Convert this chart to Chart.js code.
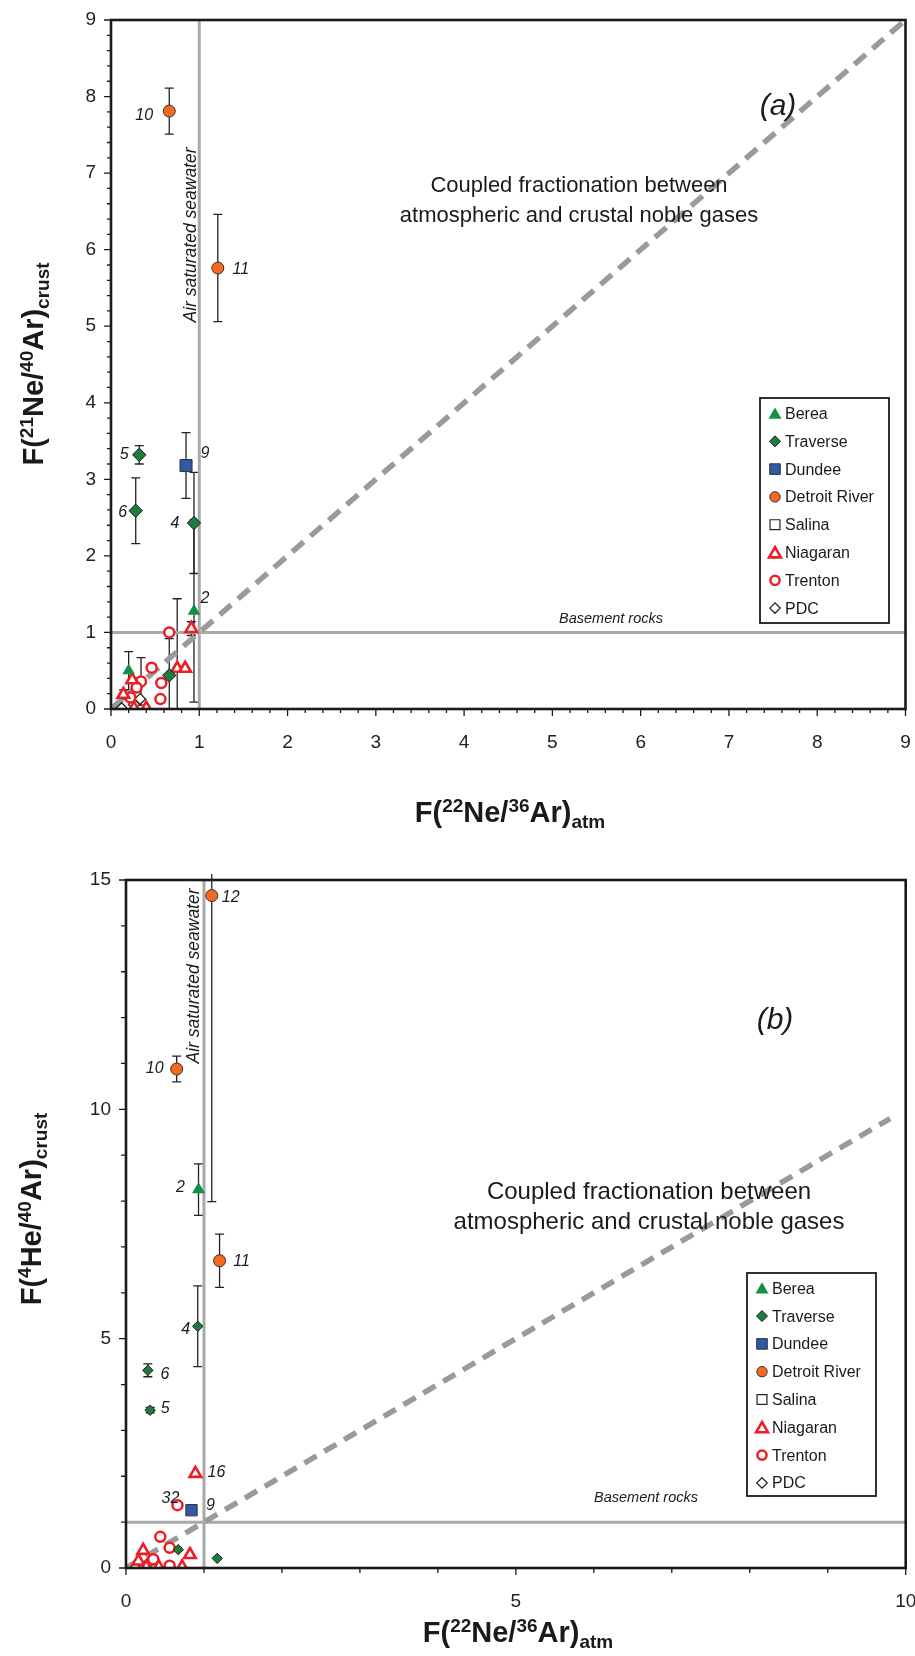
<!DOCTYPE html>
<html><head><meta charset="utf-8">
<script src="https://cdn.jsdelivr.net/npm/chart.js@4.4.0/dist/chart.umd.min.js"></script>
<style>
html,body{margin:0;padding:0;background:#fff;}
#wrapA{position:absolute;left:0;top:0;width:915px;height:860px;}
#wrapB{position:absolute;left:0;top:860px;width:915px;height:796px;}
canvas{display:block;}
</style></head><body>
<div id="wrapA"><canvas id="chartA" width="915" height="860"></canvas></div>
<div id="wrapB"><canvas id="chartB" width="915" height="796"></canvas></div>
<script>
// ---------- DATA ----------
const FORMATIONS = ['Berea','Traverse','Dundee','Detroit River','Salina','Niagaran','Trenton','PDC'];

// Panel (a): F(22Ne/36Ar)atm vs F(21Ne/40Ar)crust
const A_BEREA_X = [0.94, 0.20];
const A_BEREA_Y = [1.28, 0.50];
const A_BEREA_ERR = [1.19, 0.25];
const A_TRAVERSE_X = [0.32, 0.28, 0.94, 0.66];
const A_TRAVERSE_Y = [3.32, 2.59, 2.43, 0.44];
const A_TRAVERSE_ERR = [0.12, 0.43, 0.66, 0.48];
const A_DUNDEE_X = [0.85];
const A_DUNDEE_Y = [3.18];
const A_DUNDEE_ERR = [0.43];
const A_DETROIT_X = [0.66, 1.21];
const A_DETROIT_Y = [7.81, 5.76];
const A_DETROIT_ERR = [0.30, 0.70];
const A_SALINA_X = [];
const A_SALINA_Y = [];
const A_NIAGARAN_X = [0.91, 0.75, 0.84, 0.24, 0.14, 0.26, 0.40];
const A_NIAGARAN_Y = [1.05, 0.53, 0.53, 0.38, 0.19, 0.01, 0.01];
const A_NIAGARAN_ERR = [0.09, 0.91, 0, 0, 0.06, 0, 0];
const A_TRENTON_X = [0.66, 0.46, 0.57, 0.56, 0.34, 0.29, 0.22];
const A_TRENTON_Y = [1.00, 0.54, 0.34, 0.13, 0.36, 0.28, 0.15];
const A_TRENTON_ERR = [0, 0, 0, 0, 0.31, 0, 0];
const A_PDC_X = [0.12, 0.26, 0.33];
const A_PDC_Y = [0.01, 0.06, 0.13];
const A_DIAG_X = [0, 9], A_DIAG_Y = [0, 9];
const A_ASW_X = [1, 1], A_ASW_Y = [0, 9];
const A_BASE_X = [0, 9], A_BASE_Y = [1, 1];
const A_TICKS_X = [0,1,2,3,4,5,6,7,8,9];
const A_TICKS_Y = [0,1,2,3,4,5,6,7,8,9];
const A_LABEL_TEXT = ['10','11','5','9','6','4','2'];
const A_LABEL_SERIES = ['Detroit River','Detroit River','Traverse','Dundee','Traverse','Traverse','Berea'];
const A_LABEL_INDEX = [0,1,0,0,1,2,0];

// Panel (b): F(22Ne/36Ar)atm vs F(4He/40Ar)crust
const B_BEREA_X = [0.93];
const B_BEREA_Y = [8.25];
const B_BEREA_ERR = [0.56];
const B_TRAVERSE_X = [0.92, 0.28, 0.31, 0.67, 1.17];
const B_TRAVERSE_Y = [5.27, 4.31, 3.44, 0.40, 0.21];
const B_TRAVERSE_ERR = [0.88, 0.14, 0.06, 0, 0];
const B_DUNDEE_X = [0.84];
const B_DUNDEE_Y = [1.26];
const B_DETROIT_X = [1.10, 0.65, 1.20];
const B_DETROIT_Y = [14.66, 10.88, 6.70];
const B_DETROIT_ERR = [6.67, 0.28, 0.58];
const B_SALINA_X = [];
const B_SALINA_Y = [];
const B_NIAGARAN_X = [0.89, 0.22, 0.82, 0.72, 0.42, 0.16, 0.26];
const B_NIAGARAN_Y = [2.06, 0.38, 0.29, 0.02, 0.02, 0.15, 0.02];
const B_TRENTON_X = [0.66, 0.44, 0.56, 0.56, 0.35];
const B_TRENTON_Y = [1.37, 0.68, 0.44, 0.05, 0.19];
const B_PDC_X = [0.12, 0.24, 0.32];
const B_PDC_Y = [0.00, 0.03, 0.15];
const B_DIAG_X = [0, 9.8], B_DIAG_Y = [0, 9.8];
const B_ASW_X = [1, 1], B_ASW_Y = [0, 15];
const B_BASE_X = [0, 10], B_BASE_Y = [1, 1];
const B_TICKS_X = [0,5,10];
const B_TICKS_Y = [0,5,10,15];
const B_LABEL_TEXT = ['12','10','2','11','4','6','5','16','32','9'];
const B_LABEL_SERIES = ['Detroit River','Detroit River','Berea','Detroit River','Traverse','Traverse','Traverse','Niagaran','Trenton','Dundee'];
const B_LABEL_INDEX = [0,1,0,2,0,1,2,0,0,0];

// ---------- STYLE ----------
const FONT = '"Liberation Sans", Arial, Helvetica, sans-serif';
const STYLE = {
  'Berea':        {ps:'triangle', bg:'#12904a', bc:'#12904a', bw:0,   rA:7.3, rB:7.5, rL:7.5},
  'Traverse':     {ps:'rectRot',  bg:'#1e7d3e', bc:'#1a1a1a', bw:1,   rA:6.7, rB:5.2, rL:5.5},
  'Dundee':       {ps:'rect',     bg:'#3157a6', bc:'#333333', bw:1,   rA:8.5, rB:8,   rL:7.5},
  'Detroit River':{ps:'circle',   bg:'#f4691f', bc:'#333333', bw:1,   rA:6,   rB:6,   rL:5.2},
  'Salina':       {ps:'rect',     bg:'#ffffff', bc:'#222222', bw:1.2, rA:7,   rB:7,   rL:7},
  'Niagaran':     {ps:'triangle', bg:'#ffffff', bc:'#ee1c25', bw:2.6, rA:6.7, rB:6.7, rL:6.8},
  'Trenton':      {ps:'circle',   bg:'#ffffff', bc:'#ee1c25', bw:2.5, rA:5,   rB:5,   rL:4.6},
  'PDC':          {ps:'rectRot',  bg:'#ffffff', bc:'#222222', bw:1.3, rA:5.5, rB:5.5, rL:5.2}
};
const LABEL_OFFSETS_A = [[-25,4],[23,2],[-15,0],[19,-12],[-13,2],[-19,1],[11,-12]];
const LABEL_OFFSETS_B = [[19,2],[-22,0],[-18,-2],[22,1],[-12,3],[17,4],[15,-2],[21,-1],[-7,-7],[19,-5]];

function pts(xs, ys){ return xs.map((x,i)=>({x:x, y:ys[i]})); }

function formationDatasets(panel, series){
  return FORMATIONS.map(name => {
    const st = STYLE[name];
    const s = series[name];
    return {
      label:name, data:pts(s[0], s[1]), errors:s[2] || null,
      pointStyle:st.ps, backgroundColor:st.bg, borderColor:st.bc,
      pointBackgroundColor:st.bg, pointBorderColor:st.bc, pointBorderWidth:st.bw,
      pointRadius: panel==='A'?st.rA:st.rB, pointHoverRadius: panel==='A'?st.rA:st.rB,
      showLine:false, order:1
    };
  });
}
function lineDataset(xs, ys, color, width, dash){
  return {label:'_line', data:pts(xs,ys), showLine:true, borderColor:color, borderWidth:width,
    borderDash:dash||[], pointRadius:0, pointHoverRadius:0, fill:false, order:10, borderCapStyle:'butt'};
}

const seriesA = {
  'Berea':[A_BEREA_X,A_BEREA_Y,A_BEREA_ERR], 'Traverse':[A_TRAVERSE_X,A_TRAVERSE_Y,A_TRAVERSE_ERR],
  'Dundee':[A_DUNDEE_X,A_DUNDEE_Y,A_DUNDEE_ERR], 'Detroit River':[A_DETROIT_X,A_DETROIT_Y,A_DETROIT_ERR],
  'Salina':[A_SALINA_X,A_SALINA_Y], 'Niagaran':[A_NIAGARAN_X,A_NIAGARAN_Y,A_NIAGARAN_ERR],
  'Trenton':[A_TRENTON_X,A_TRENTON_Y,A_TRENTON_ERR], 'PDC':[A_PDC_X,A_PDC_Y]
};
const seriesB = {
  'Berea':[B_BEREA_X,B_BEREA_Y,B_BEREA_ERR], 'Traverse':[B_TRAVERSE_X,B_TRAVERSE_Y,B_TRAVERSE_ERR],
  'Dundee':[B_DUNDEE_X,B_DUNDEE_Y], 'Detroit River':[B_DETROIT_X,B_DETROIT_Y,B_DETROIT_ERR],
  'Salina':[B_SALINA_X,B_SALINA_Y], 'Niagaran':[B_NIAGARAN_X,B_NIAGARAN_Y],
  'Trenton':[B_TRENTON_X,B_TRENTON_Y], 'PDC':[B_PDC_X,B_PDC_Y]
};

// ---------- PLUGINS ----------
const errorBarPlugin = {
  id:'errbars',
  beforeDatasetsDraw(chart){
    const {ctx, chartArea:ca, scales:{x,y}} = chart;
    ctx.save();
    ctx.beginPath(); ctx.rect(ca.left-10, ca.top-6, ca.width+20, ca.height+6); ctx.clip();
    ctx.strokeStyle = '#222'; ctx.lineWidth = 1.3;
    chart.data.datasets.forEach(ds => {
      if (!ds.errors) return;
      ds.data.forEach((p,i) => {
        const e = ds.errors[i]; if (!e) return;
        const px = x.getPixelForValue(p.x);
        const t = y.getPixelForValue(p.y + e), b = y.getPixelForValue(p.y - e);
        ctx.beginPath();
        ctx.moveTo(px, t); ctx.lineTo(px, b);
        ctx.moveTo(px-4.5, t); ctx.lineTo(px+4.5, t);
        ctx.moveTo(px-4.5, b); ctx.lineTo(px+4.5, b);
        ctx.stroke();
      });
    });
    ctx.restore();
  }
};

function drawRich(ctx, segs, cx, cy, size, rotate){
  ctx.save();
  ctx.translate(cx, cy);
  if (rotate) ctx.rotate(-Math.PI/2);
  const fontFor = s => 'bold ' + (s.k==='n' ? size : Math.round(size*0.64)) + 'px ' + FONT;
  let total = 0;
  segs.forEach(s => { ctx.font = fontFor(s); s.w = ctx.measureText(s.t).width; total += s.w; });
  let xx = -total/2;
  ctx.textAlign = 'left'; ctx.textBaseline = 'alphabetic'; ctx.fillStyle = '#1a1a1a';
  const base = size*0.36;
  segs.forEach(s => {
    ctx.font = fontFor(s);
    let dy = base;
    if (s.k==='sup') dy = base - size*0.36;
    if (s.k==='sub') dy = base + size*0.2;
    ctx.fillText(s.t, xx, dy);
    xx += s.w;
  });
  ctx.restore();
}

function framePlugin(cfg){
  return {
    id:'frame'+cfg.name,
    afterDraw(chart){
      const {ctx, chartArea:ca, scales:{x,y}} = chart;
      ctx.save();
      ctx.strokeStyle = '#1a1a1a';
      ctx.lineWidth = 1.3;
      ctx.beginPath();
      for (let v = 0; v <= cfg.ymax + 1e-9; v += cfg.yminor){
        const py = y.getPixelForValue(v);
        const major = Math.abs(v/cfg.ymajor - Math.round(v/cfg.ymajor)) < 1e-6;
        const len = major ? cfg.majLen : cfg.minLen;
        ctx.moveTo(ca.left - len, py); ctx.lineTo(ca.left, py);
      }
      for (let v = 0; v <= cfg.xmax + 1e-9; v += cfg.xminor){
        const px = x.getPixelForValue(v);
        const major = Math.abs(v/cfg.xmajor - Math.round(v/cfg.xmajor)) < 1e-6;
        const len = major ? cfg.majLen : cfg.minLen;
        ctx.moveTo(px, ca.bottom); ctx.lineTo(px, ca.bottom + len);
      }
      ctx.stroke();
      ctx.lineWidth = 2.6;
      ctx.strokeRect(ca.left, ca.top, ca.right-ca.left, ca.bottom-ca.top);
      drawRich(ctx, cfg.xTitle, cfg.xTitlePos[0], cfg.xTitlePos[1], 29, false);
      drawRich(ctx, cfg.yTitle, cfg.yTitlePos[0], cfg.yTitlePos[1], 29, true);

      ctx.fillStyle = '#1a1a1a';
      ctx.textAlign = 'center'; ctx.textBaseline = 'middle';
      ctx.font = 'italic 30px ' + FONT;
      ctx.fillText(cfg.panel, cfg.panelPos[0], cfg.panelPos[1]);
      ctx.font = cfg.coupledSize + 'px ' + FONT;
      ctx.fillText('Coupled fractionation between', cfg.coupledPos[0], cfg.coupledPos[1]);
      ctx.fillText('atmospheric and crustal noble gases', cfg.coupledPos[0], cfg.coupledPos[1] + cfg.coupledGap);
      ctx.font = 'italic 14.5px ' + FONT;
      ctx.fillText('Basement rocks', cfg.basePos[0], cfg.basePos[1]);
      ctx.save();
      ctx.translate(cfg.aswPos[0], cfg.aswPos[1]); ctx.rotate(-Math.PI/2);
      ctx.font = 'italic 17.5px ' + FONT;
      ctx.fillText('Air saturated seawater', 0, 0);
      ctx.restore();

      ctx.font = 'italic 16px ' + FONT;
      cfg.labelText.forEach((t,k) => {
        const di = chart.data.datasets.findIndex(d => d.label === cfg.labelSeries[k]);
        const el = chart.getDatasetMeta(di).data[cfg.labelIndex[k]];
        if (!el) return;
        ctx.fillText(t, el.x + cfg.labelOff[k][0], el.y + cfg.labelOff[k][1]);
      });

      const L = cfg.legend;
      ctx.fillStyle = '#fff';
      ctx.fillRect(L.x, L.y, L.w, L.h);
      ctx.lineWidth = 1.8; ctx.strokeStyle = '#1a1a1a';
      ctx.strokeRect(L.x, L.y, L.w, L.h);
      ctx.textAlign = 'left'; ctx.textBaseline = 'middle';
      ctx.font = '16px ' + FONT;
      FORMATIONS.forEach((name, i) => {
        const st = STYLE[name];
        const cy = L.first + i*L.step;
        ctx.fillStyle = st.bg; ctx.strokeStyle = st.bc; ctx.lineWidth = st.bw;
        Chart.helpers.drawPoint(ctx, {pointStyle:st.ps, radius:st.rL, rotation:0, borderWidth:st.bw}, L.mx, cy + (st.ps==='triangle'?1.5:0));
        ctx.fillStyle = '#1a1a1a';
        ctx.fillText(name, L.tx, cy + 1);
      });
      ctx.restore();
    }
  };
}

function makeScales(xmax, xstep, ymax, ystep, yWidth, xTicks, yTicks){
  const tickFont = {family: FONT, size: 19};
  return {
    x: {type:'linear', min:0, max:xmax, grid:{display:false, drawTicks:false}, border:{display:false},
        ticks:{stepSize:xstep, color:'#222', font:tickFont, padding:22, maxRotation:0, autoSkip:false,
               callback:(v)=> xTicks.includes(Math.round(v*1000)/1000) ? String(Math.round(v)) : ''},
        afterFit(s){ s.height = 60; s.paddingLeft = 0; s.paddingRight = 0; }},
    y: {type:'linear', min:0, max:ymax, grid:{display:false, drawTicks:false}, border:{display:false},
        ticks:{stepSize:ystep, color:'#222', font:tickFont, padding:15, autoSkip:false,
               callback:(v)=> yTicks.includes(Math.round(v*1000)/1000) ? String(Math.round(v)) : ''},
        afterFit(s){ s.width = yWidth; s.paddingTop = 0; s.paddingBottom = 0; }}
  };
}

const X_TITLE = () => [{t:'F(',k:'n'},{t:'22',k:'sup'},{t:'Ne/',k:'n'},{t:'36',k:'sup'},{t:'Ar)',k:'n'},{t:'atm',k:'sub'}];

// ---------- CHART A ----------
const dsA = formationDatasets('A', seriesA).concat([
  lineDataset(A_DIAG_X, A_DIAG_Y, '#9a9a9a', 5.5, [15, 9]),
  lineDataset(A_ASW_X, A_ASW_Y, '#a9a9a9', 3),
  lineDataset(A_BASE_X, A_BASE_Y, '#a9a9a9', 3)
]);
new Chart(document.getElementById('chartA'), {
  type:'scatter',
  data:{datasets:dsA},
  options:{
    responsive:false, animation:false, devicePixelRatio:1,
    layout:{padding:{left:0, top:20, right:9, bottom:91}},
    plugins:{legend:{display:false}, tooltip:{enabled:false}},
    scales: makeScales(9, 1, 9, 1, 111, A_TICKS_X, A_TICKS_Y)
  },
  plugins:[errorBarPlugin, framePlugin({
    name:'A', xmax:9, ymax:9, xmajor:1, ymajor:1, xminor:0.2, yminor:0.2, majLen:7, minLen:4,
    xTitle:X_TITLE(), xTitlePos:[510, 812],
    yTitle:[{t:'F(',k:'n'},{t:'21',k:'sup'},{t:'Ne/',k:'n'},{t:'40',k:'sup'},{t:'Ar)',k:'n'},{t:'crust',k:'sub'}],
    yTitlePos:[33, 364],
    panel:'(a)', panelPos:[778, 107],
    coupledSize:22, coupledPos:[579, 186], coupledGap:30,
    basePos:[611, 619], aswPos:[191, 235],
    labelText:A_LABEL_TEXT, labelSeries:A_LABEL_SERIES, labelIndex:A_LABEL_INDEX, labelOff:LABEL_OFFSETS_A,
    legend:{x:760, y:398, w:129, h:225, first:413.5, step:27.8, mx:775, tx:785}
  })]
});

// ---------- CHART B ----------
const dsB = formationDatasets('B', seriesB).concat([
  lineDataset(B_DIAG_X, B_DIAG_Y, '#9a9a9a', 5.5, [14, 9]),
  lineDataset(B_ASW_X, B_ASW_Y, '#a9a9a9', 3),
  lineDataset(B_BASE_X, B_BASE_Y, '#a9a9a9', 3)
]);
new Chart(document.getElementById('chartB'), {
  type:'scatter',
  data:{datasets:dsB},
  options:{
    responsive:false, animation:false, devicePixelRatio:1,
    layout:{padding:{left:0, top:20, right:9, bottom:28}},
    plugins:{legend:{display:false}, tooltip:{enabled:false}},
    scales: makeScales(10, 5, 15, 5, 126, B_TICKS_X, B_TICKS_Y)
  },
  plugins:[errorBarPlugin, framePlugin({
    name:'B', xmax:10, ymax:15, xmajor:5, ymajor:5, xminor:1, yminor:1, majLen:7, minLen:5,
    xTitle:X_TITLE(), xTitlePos:[518, 772],
    yTitle:[{t:'F(',k:'n'},{t:'4',k:'sup'},{t:'He/',k:'n'},{t:'40',k:'sup'},{t:'Ar)',k:'n'},{t:'crust',k:'sub'}],
    yTitlePos:[31, 349],
    panel:'(b)', panelPos:[775, 161],
    coupledSize:24, coupledPos:[649, 332], coupledGap:30,
    basePos:[646, 638], aswPos:[194, 116],
    labelText:B_LABEL_TEXT, labelSeries:B_LABEL_SERIES, labelIndex:B_LABEL_INDEX, labelOff:LABEL_OFFSETS_B,
    legend:{x:747, y:413, w:129, h:223, first:428.3, step:27.8, mx:762, tx:772}
  })]
});
</script>
</body></html>
